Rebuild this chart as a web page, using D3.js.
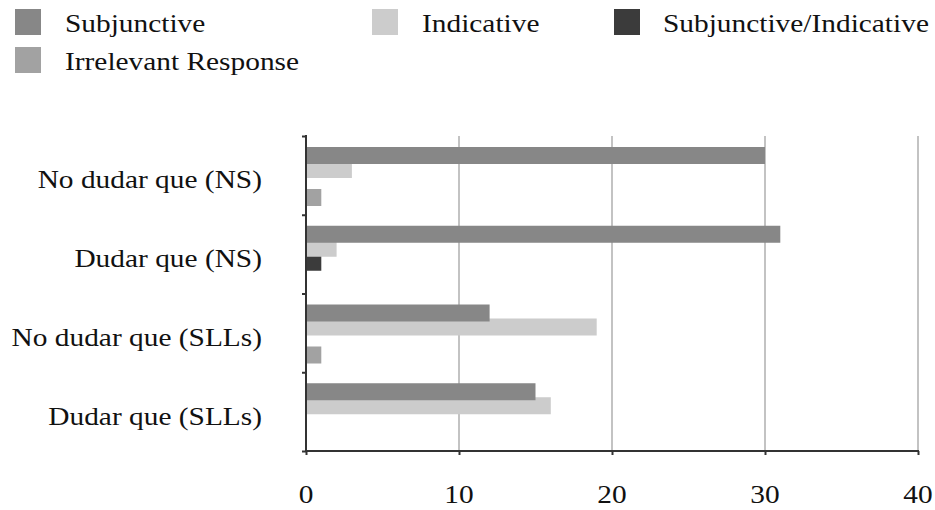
<!DOCTYPE html>
<html>
<head>
<meta charset="utf-8">
<script src="https://cdn.jsdelivr.net/npm/d3@7"></script>
<style>
  html, body { margin: 0; padding: 0; background: #fff; }
  svg { display: block; }
  text { font-family: "Liberation Serif", "Times New Roman", serif; fill: #111; }
</style>
</head>
<body>
<svg id="chart" width="935" height="510"></svg>
<script>
const categories = ["No dudar que (NS)", "Dudar que (NS)", "No dudar que (SLLs)", "Dudar que (SLLs)"];
const seriesNames = ["Subjunctive", "Indicative", "Subjunctive/Indicative", "Irrelevant Response"];
const subjunctive = [30, 31, 12, 15];
const indicative = [3, 2, 19, 16];
const subjIndicative = [0, 1, 0, 0];
const irrelevant = [1, 0, 1, 0];
const xTicks = [0, 10, 20, 30, 40];
const colors = ["#878787", "#cccccc", "#3b3b3b", "#a2a2a2"];

const seriesValues = [subjunctive, indicative, subjIndicative, irrelevant];
const svg = d3.select("#chart");
const FS = 26, SX = 1.13;

const margin = {left: 306, right: 17, top: 136, bottom: 59};
const W = 935, H = 510;
const x = d3.scaleLinear().domain([0, 40]).range([margin.left, W - margin.right]);
const y = d3.scaleBand().domain(categories).range([margin.top, H - margin.bottom]).padding(0);
const inner = d3.scaleBand().domain(d3.range(4)).range([11, 67]).padding(0);
const barH = inner.bandwidth() + 3; // bars overlap slightly, as in the source

// gridlines
svg.append("g").selectAll("line").data(xTicks.filter(d => d > 0)).join("line")
  .attr("x1", d => x(d)).attr("x2", d => x(d))
  .attr("y1", margin.top).attr("y2", H - margin.bottom)
  .attr("stroke", "#c3c3c3").attr("stroke-width", 2);

// bars (drawn last series first so earlier series sit on top)
const rows = [];
categories.forEach((c, i) => seriesValues.forEach((s, j) => rows.push({c, j, v: s[i]})));
rows.sort((a, b) => b.j - a.j);
svg.append("g").selectAll("rect").data(rows.filter(d => d.v > 0)).join("rect")
  .attr("x", x(0))
  .attr("y", d => y(d.c) + inner(d.j))
  .attr("width", d => x(d.v) - x(0))
  .attr("height", barH)
  .attr("fill", d => colors[d.j]);

// axes
const xAxis = d3.axisBottom(x).tickValues(xTicks).tickSize(4).tickFormat("");
const gx = svg.append("g").attr("transform", `translate(0,${H - margin.bottom})`).call(xAxis);
gx.select(".domain").attr("stroke", "#333").attr("stroke-width", 2).attr("d", `M${x(0)-1},0H${x(40)+1}`);
gx.selectAll(".tick line").attr("stroke", "#333").attr("stroke-width", 2);

const yAxis = d3.axisLeft(d3.scaleLinear().domain([0, 4]).range([margin.top, H - margin.bottom]))
  .tickValues([0, 1, 2, 3, 4]).tickSize(4).tickFormat("");
const gy = svg.append("g").attr("transform", `translate(${x(0)},0)`).call(yAxis);
gy.select(".domain").attr("stroke", "#333").attr("stroke-width", 2).attr("d", `M0,${margin.top-1}V${H - margin.bottom+1}`);
gy.selectAll(".tick line").attr("stroke", "#333").attr("stroke-width", 2);

// x tick labels
svg.append("g").selectAll("text").data(xTicks).join("text")
  .attr("transform", d => `translate(${x(d)},503) scale(${SX},1)`)
  .attr("text-anchor", "middle").attr("font-size", FS)
  .text(d => d);

// category labels
svg.append("g").selectAll("text").data(categories).join("text")
  .attr("transform", d => `translate(262,${y(d) + y.bandwidth() / 2 + 13}) scale(${SX},1)`)
  .attr("text-anchor", "end").attr("font-size", FS)
  .text(d => d);

// legend
const legendPos = [
  {sx: 15, sy: 9, tx: 65},
  {sx: 372, sy: 9, tx: 422},
  {sx: 614, sy: 9, tx: 663},
  {sx: 15, sy: 47, tx: 65}
];
const lg = svg.append("g").selectAll("g").data(seriesNames).join("g");
lg.append("rect")
  .attr("x", (d, i) => legendPos[i].sx).attr("y", (d, i) => legendPos[i].sy)
  .attr("width", 26).attr("height", 26)
  .attr("fill", (d, i) => colors[i]);
lg.append("text")
  .attr("transform", (d, i) => `translate(${legendPos[i].tx},${legendPos[i].sy + 23}) scale(${SX},1)`)
  .attr("font-size", FS)
  .text(d => d);
</script>
</body>
</html>
